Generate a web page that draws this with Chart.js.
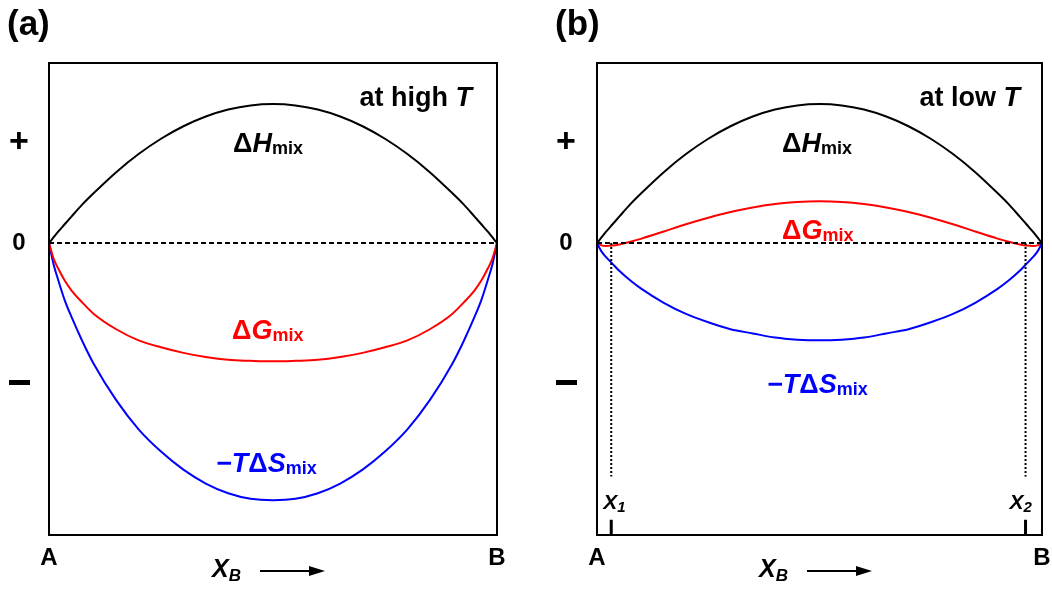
<!DOCTYPE html>
<html>
<head>
<meta charset="utf-8">
<script src="https://cdn.jsdelivr.net/npm/chart.js@4.4.1/dist/chart.umd.min.js"></script>
<style>
  html, body { margin: 0; padding: 0; background: #fff; }
  #wrap { position: relative; width: 1052px; height: 589px; }
  canvas { position: absolute; top: 0; }
  #ca { left: 0; }
  #cb { left: 526px; }
</style>
</head>
<body>
<div id="wrap">
  <canvas id="ca" width="526" height="589"></canvas>
  <canvas id="cb" width="526" height="589"></canvas>
</div>
<script>
// Mole fraction of B along the composition axis
const xB = [0, 0.01, 0.02, 0.035, 0.05, 0.075, 0.1, 0.15, 0.2, 0.25, 0.3, 0.35, 0.4, 0.45, 0.5,
            0.55, 0.6, 0.65, 0.7, 0.75, 0.8, 0.85, 0.9, 0.925, 0.95, 0.965, 0.98, 0.99, 1];

// Enthalpy of mixing (same in both panels)
const dHmix = [0, 0.04, 0.08, 0.135, 0.19, 0.28, 0.36, 0.51, 0.64, 0.75, 0.84, 0.91, 0.96, 0.99, 1.0,
               0.99, 0.96, 0.91, 0.84, 0.75, 0.64, 0.51, 0.36, 0.28, 0.19, 0.135, 0.08, 0.04, 0];

// High temperature: entropy term and free energy of mixing
const tdSHigh = [0, -0.15, -0.26, -0.41, -0.53, -0.71, -0.87, -1.13, -1.34, -1.50, -1.63, -1.73, -1.80, -1.84, -1.85,
                 -1.84, -1.80, -1.73, -1.63, -1.50, -1.34, -1.13, -0.87, -0.71, -0.53, -0.41, -0.26, -0.15, 0];
const dGHigh = [0, -0.11, -0.18, -0.27, -0.34, -0.43, -0.51, -0.62, -0.70, -0.75, -0.79, -0.82, -0.84, -0.847, -0.851,
                -0.847, -0.84, -0.82, -0.79, -0.75, -0.70, -0.62, -0.51, -0.43, -0.34, -0.27, -0.18, -0.11, 0];

// Low temperature: entropy term and free energy of mixing
const tdSLow = [0, -0.06, -0.10, -0.15, -0.20, -0.27, -0.33, -0.43, -0.51, -0.57, -0.62, -0.65, -0.68, -0.695, -0.70,
                -0.695, -0.68, -0.65, -0.62, -0.57, -0.51, -0.43, -0.33, -0.27, -0.20, -0.15, -0.10, -0.06, 0];
const dGLow = [0, -0.017, -0.021, -0.018, -0.01, 0.009, 0.032, 0.083, 0.135, 0.182, 0.223, 0.256, 0.28, 0.295, 0.30,
               0.295, 0.28, 0.256, 0.223, 0.182, 0.135, 0.083, 0.032, 0.009, -0.01, -0.018, -0.021, -0.017, 0];

// Miscibility-gap compositions (low T)
const gapX = [0.032, 0.963];
const gapGuideBottom = -1.68;
const tickSpan = [-1.99, -2.1];

const yMin = -2.1, yMax = 1.295;
const FONT = '"Liberation Sans", Arial, Helvetica, sans-serif';

const pts = (xs, ys) => xs.map((x, i) => ({ x: x, y: ys[i] }));

function curve(values, color) {
  return { data: pts(xB, values), borderColor: color, borderWidth: 2, pointRadius: 0,
           cubicInterpolationMode: 'monotone', fill: false };
}
function zeroLine() {
  return { data: [{ x: 0, y: 0 }, { x: 1, y: 0 }], borderColor: '#000', borderWidth: 2,
           borderDash: [5, 3], pointRadius: 0, fill: false };
}

// Rich text: list of runs {t, size, italic, dy}
function rich(ctx, x, y, runs, color, align) {
  let w = 0;
  runs.forEach(r => {
    ctx.font = (r.italic ? 'italic ' : '') + 'bold ' + r.size + 'px ' + FONT;
    w += ctx.measureText(r.t).width;
  });
  let cx = align === 'right' ? x - w : (align === 'center' ? x - w / 2 : x);
  ctx.fillStyle = color;
  ctx.textBaseline = 'alphabetic';
  ctx.textAlign = 'left';
  runs.forEach(r => {
    ctx.font = (r.italic ? 'italic ' : '') + 'bold ' + r.size + 'px ' + FONT;
    ctx.fillText(r.t, cx, y + (r.dy || 0));
    cx += ctx.measureText(r.t).width;
  });
}

const M = 27, S = 18;
const lblH = [{ t: 'Δ', size: M }, { t: 'H', size: M, italic: true }, { t: 'mix', size: S, dy: 2 }];
const lblG = [{ t: 'Δ', size: M }, { t: 'G', size: M, italic: true }, { t: 'mix', size: S, dy: 2 }];
const lblS = [{ t: '−', size: M, italic: true }, { t: 'T', size: M, italic: true }, { t: 'Δ', size: M },
              { t: 'S', size: M, italic: true }, { t: 'mix', size: S, dy: 2 }];

function annotations(cfg) {
  return {
    id: 'annot',
    afterDraw(chart) {
      const ctx = chart.ctx;
      const a = chart.chartArea;
      ctx.save();
      // frame
      ctx.strokeStyle = '#000';
      ctx.lineWidth = 2;
      ctx.strokeRect(a.left, a.top, a.right - a.left, a.bottom - a.top);
      // panel tag
      rich(ctx, cfg.tagX, 35, [{ t: cfg.tag, size: 35 }], '#000', 'left');
      // energy sign labels
      const yz = chart.scales.y.getPixelForValue(0);
      rich(ctx, cfg.signX, 152, [{ t: '+', size: 34 }], '#000', 'center');
      rich(ctx, cfg.signX, yz + 7, [{ t: '0', size: 24 }], '#000', 'center');
      ctx.fillStyle = '#000';
      ctx.fillRect(cfg.signX - 10, 380, 21, 5);
      // temperature note
      rich(ctx, cfg.noteRight, 106, [{ t: cfg.note, size: 27 }, { t: 'T', size: 27, italic: true }], '#000', 'right');
      // curve labels
      rich(ctx, cfg.hPos[0], cfg.hPos[1], lblH, '#000', 'left');
      rich(ctx, cfg.gPos[0], cfg.gPos[1], lblG, '#ff0000', 'left');
      rich(ctx, cfg.sPos[0], cfg.sPos[1], lblS, '#0000ff', 'left');
      // composition axis
      rich(ctx, a.left, 565, [{ t: 'A', size: 24 }], '#000', 'center');
      rich(ctx, a.right, 565, [{ t: 'B', size: 24 }], '#000', 'center');
      rich(ctx, cfg.xbX, 577, [{ t: 'X', size: 25, italic: true }, { t: 'B', size: 17, italic: true, dy: 4 }], '#000', 'left');
      ctx.strokeStyle = '#000';
      ctx.lineWidth = 2;
      ctx.beginPath();
      ctx.moveTo(cfg.xbX + 48, 571);
      ctx.lineTo(cfg.xbX + 100, 571);
      ctx.stroke();
      ctx.beginPath();
      ctx.moveTo(cfg.xbX + 113, 571);
      ctx.lineTo(cfg.xbX + 97, 566);
      ctx.lineTo(cfg.xbX + 97, 576);
      ctx.closePath();
      ctx.fill();
      // gap composition labels
      if (cfg.gap) {
        const sx = chart.scales.x;
        rich(ctx, sx.getPixelForValue(gapX[0]) - 8, 509,
             [{ t: 'X', size: 21, italic: true }, { t: '1', size: 15, italic: true, dy: 3 }], '#000', 'left');
        rich(ctx, sx.getPixelForValue(gapX[1]) - 16, 509,
             [{ t: 'X', size: 21, italic: true }, { t: '2', size: 15, italic: true, dy: 3 }], '#000', 'left');
      }
      ctx.restore();
    }
  };
}

function makeChart(id, datasets, padding, cfg) {
  return new Chart(document.getElementById(id), {
    type: 'line',
    data: { datasets: datasets },
    options: {
      responsive: false,
      animation: false,
      devicePixelRatio: 1,
      layout: { padding: padding },
      plugins: { legend: { display: false }, tooltip: { enabled: false } },
      scales: {
        x: { type: 'linear', min: 0, max: 1, display: false },
        y: { type: 'linear', min: yMin, max: yMax, display: false }
      }
    },
    plugins: [annotations(cfg)]
  });
}

// (a) high temperature
makeChart('ca', [
  zeroLine(),
  curve(dHmix, '#000'),
  curve(dGHigh, '#ff0000'),
  curve(tdSHigh, '#0000ff')
], { left: 49, right: 29, top: 63, bottom: 54 }, {
  tag: '(a)', tagX: 7, signX: 19, note: 'at high ', noteRight: 472,
  hPos: [233, 152], gPos: [232, 339], sPos: [216, 472], xbX: 212, gap: false
});

// (b) low temperature, with miscibility gap
const guides = [];
gapX.forEach(x => {
  guides.push({ data: [{ x: x, y: 0 }, { x: x, y: gapGuideBottom }], borderColor: '#000', borderWidth: 2,
                borderDash: [2, 2], pointRadius: 0, fill: false });
  guides.push({ data: [{ x: x, y: tickSpan[0] }, { x: x, y: tickSpan[1] }], borderColor: '#000', borderWidth: 3,
                pointRadius: 0, fill: false });
});
makeChart('cb', [
  ...guides,
  zeroLine(),
  curve(dHmix, '#000'),
  curve(tdSLow, '#0000ff'),
  curve(dGLow, '#ff0000')
], { left: 71, right: 10, top: 63, bottom: 54 }, {
  tag: '(b)', tagX: 29, signX: 40, note: 'at low ', noteRight: 494,
  hPos: [256, 152], gPos: [256, 239], sPos: [241, 393], xbX: 233, gap: true
});
</script>
</body>
</html>
